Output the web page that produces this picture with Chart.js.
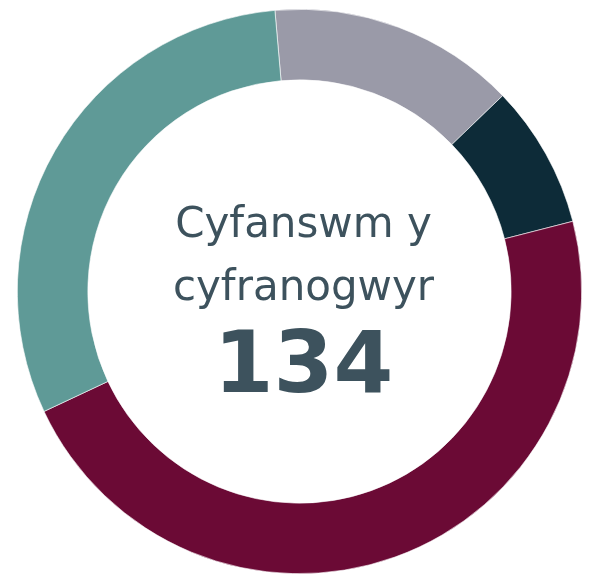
<!DOCTYPE html>
<html>
<head>
<meta charset="utf-8">
<script src="https://cdn.jsdelivr.net/npm/chart.js@4"></script>
<style>
  html, body { margin: 0; padding: 0; background: #ffffff; }
  #wrap { width: 592px; height: 576px; }
</style>
</head>
<body>
<div id="wrap"><canvas id="myChart"></canvas></div>
<script>
// slices, clockwise from top
const categories = ['Grŵp 1', 'Grŵp 2', 'Grŵp 3', 'Grŵp 4'];
const values = [19, 11, 63, 41];
const colours = ['#9a9aa8', '#0d2b38', '#6b0a35', '#5f9a97'];
const centreLines = ['Cyfanswm y', 'cyfranogwyr'];
const totalLabel = '134';

const textColour = '#3d525d';

const centreText = {
  id: 'centreText',
  afterDraw(chart) {
    const meta = chart.getDatasetMeta(0);
    if (!meta.data.length) return;
    const arc = meta.data[0];
    const cx = arc.x + 4;
    const cy = arc.y;
    const c = chart.ctx;
    c.save();
    c.fillStyle = textColour;
    c.textAlign = 'center';
    c.textBaseline = 'alphabetic';
    c.font = '42px "DejaVu Sans", sans-serif';
    c.fillText(centreLines[0], cx, cy - 55);
    c.fillText(centreLines[1], cx, cy + 8);
    c.font = 'bold 86px "DejaVu Sans", sans-serif';
    c.fillText(totalLabel, cx, cy + 100);
    c.restore();
  }
};

const ctx = document.getElementById('myChart');
new Chart(ctx, {
  type: 'doughnut',
  data: {
    labels: categories,
    datasets: [{
      data: values,
      backgroundColor: colours,
      borderColor: '#ffffff',
      borderWidth: 0.6
    }]
  },
  options: {
    responsive: true,
    maintainAspectRatio: false,
    animation: false,
    cutout: '75%',
    rotation: -5,
    layout: {
      padding: { top: 9, bottom: 2, left: 7, right: 0 }
    },
    plugins: {
      legend: { display: false },
      tooltip: { enabled: false }
    }
  },
  plugins: [centreText]
});
</script>
</body>
</html>
